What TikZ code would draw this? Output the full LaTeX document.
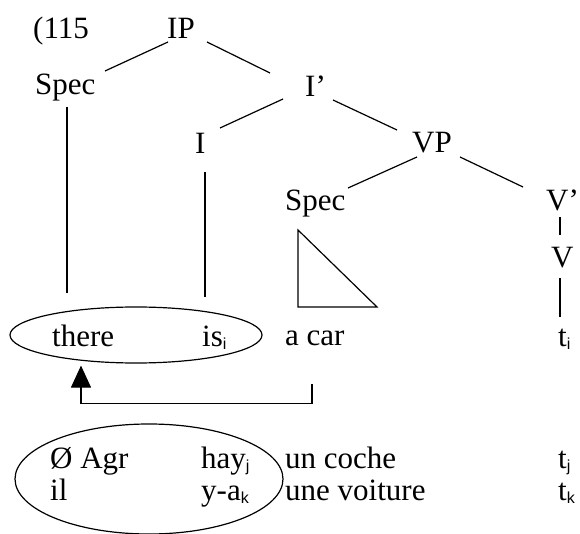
\documentclass[tikz,border=0pt]{standalone}
\usepackage{fontspec}
\setmainfont{Liberation Serif}
\setsansfont{Liberation Sans}
\usetikzlibrary{shapes.geometric,arrows.meta}
\newcommand\subx[1]{\raisebox{-3pt}{\fontsize{16}{16}\selectfont\sffamily #1}}
\begin{document}
\begin{tikzpicture}[x=1pt,y=-1pt,
  lbl/.style={anchor=base west, inner sep=0pt, font=\fontsize{31}{37}\selectfont},
  edge/.style={line width=1.2pt, line cap=butt},
  ring/.style={draw, ellipse, inner sep=0pt, line width=1.2pt}]
\useasboundingbox (0,0) rectangle (580,534);
% tree labels
\node[lbl] (n115) at (33,39) {(115};
\node[lbl] (ip) at (167,39) {IP};
\node[lbl] (specA) at (35,95) {Spec};
\node[lbl] (ibar) at (305,97) {I’};
\node[lbl] (infl) at (195,154) {I};
\node[lbl] (vp) at (412,153) {VP};
\node[lbl] (specB) at (285,211) {Spec};
\node[lbl] (vbar) at (546,211) {V’};
\node[lbl] (vv) at (551,268) {V};
% words
\node[lbl] (there) at (52,346) {there};
\node[lbl] (is) at (202,346) {is\subx{i}};
\node[lbl] (acar) at (285,345) {a car};
\node[lbl] (ti) at (558,346) {t\subx{i}};
\node[lbl] (agr) at (50,468) {Ø Agr};
\node[lbl] (hay) at (201,468) {hay\subx{j}};
\node[lbl] (coche) at (285,468) {un coche};
\node[lbl] (tj) at (558,468) {t\subx{j}};
\node[lbl] (il) at (50,500) {il};
\node[lbl] (ya) at (201,500) {y-a\subx{k}};
\node[lbl] (voiture) at (285,500) {une voiture};
\node[lbl] (tk) at (558,500) {t\subx{k}};
% tree branches
\draw[edge] ([shift={(1,3)}]ip.base west) -- ([shift={(70,-24)}]specA.base west);
\draw[edge] ([shift={(40,3)}]ip.base west) -- ([shift={(-35,-24)}]ibar.base west);
\draw[edge] ([shift={(-22,2)}]ibar.base west) -- ([shift={(25,-26)}]infl.base west);
\draw[edge] ([shift={(28,3)}]ibar.base west) -- ([shift={(-15,-23)}]vp.base west);
\draw[edge] ([shift={(5,4)}]vp.base west) -- ([shift={(63,-23)}]specB.base west);
\draw[edge] ([shift={(48,4)}]vp.base west) -- ([shift={(-23,-24)}]vbar.base west);
\draw[edge] ([shift={(14,6)}]vbar.base west) -- ([shift={(9,-33)}]vv.base west);
\draw[edge] ([shift={(9,10)}]vv.base west) -- ([shift={(2,-29)}]ti.base west);
\draw[edge] ([shift={(32,12)}]specA.base west) -- ([shift={(15,-53)}]there.base west);
\draw[edge] ([shift={(10,18)}]infl.base west) -- ([shift={(3,-49)}]is.base west);
% triangle
\draw[edge, line join=miter] ([shift={(13,19)}]specB.base west) -- ([shift={(13,96)}]specB.base west)
  -- ([shift={(92,96)}]specB.base west) -- cycle;
% ellipses
\node[ring, minimum width=252pt, minimum height=56pt] (ellA) at (136,335) {};
\node[ring, minimum width=268pt, minimum height=110pt] (ellB) at (149,479) {};
% movement arrow
\draw[edge, -{Triangle[length=22pt,width=20pt]}] ([shift={(27,39)}]acar.base west)
  |- ([shift={(-55,40)}]ellA.south) -- ([shift={(-55,2)}]ellA.south);
\end{tikzpicture}
\end{document}
